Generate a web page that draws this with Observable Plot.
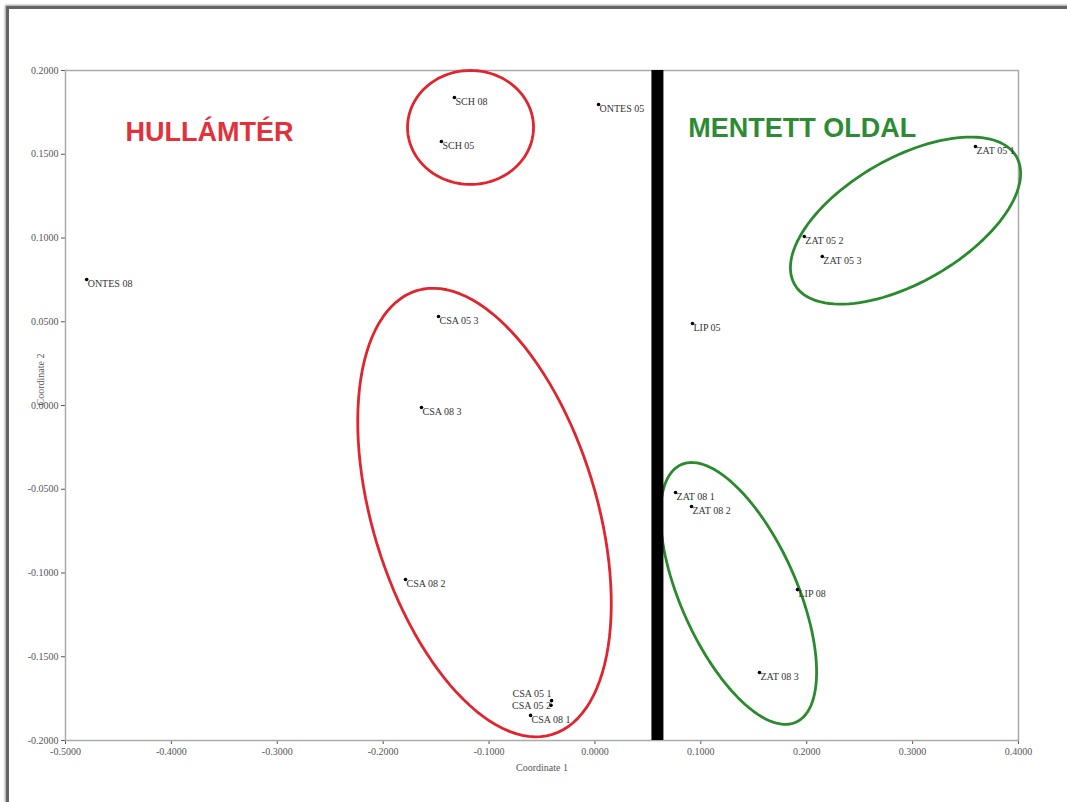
<!DOCTYPE html>
<html>
<head>
<meta charset="utf-8">
<script src="https://cdn.jsdelivr.net/npm/d3@7"></script>
<script src="https://cdn.jsdelivr.net/npm/@observablehq/plot@0.6"></script>
<style>
  html, body { margin: 0; padding: 0; background: #fff; width: 1067px; height: 802px; overflow: hidden; }
  #sheet { position: absolute; left: 6px; top: 6px; width: 1200px; height: 900px;
           border-top: 3px solid #666; border-left: 3px solid #666; box-shadow: -1px -1px 2px #999; }
  #chart { position: absolute; left: 0; top: 0; }
</style>
</head>
<body>
<div id="sheet"></div>
<div id="chart"></div>
<script>
// Sample sites (PCoA ordination scores)
const sites = ["ONTES 08", "SCH 08", "SCH 05", "ONTES 05", "ZAT 05 1", "ZAT 05 2", "ZAT 05 3", "LIP 05",
               "CSA 05 3", "CSA 08 3", "ZAT 08 1", "ZAT 08 2", "LIP 08", "CSA 08 2", "ZAT 08 3",
               "CSA 05 1", "CSA 05 2", "CSA 08 1"];
const coord1 = [-0.480, -0.1327, -0.145, 0.0034, 0.3594, 0.1977, 0.2147, 0.0921,
                -0.1477, -0.1638, 0.0761, 0.0912, 0.1913, -0.1789, 0.1554,
                -0.0410, -0.0415, -0.0608];
const coord2 = [0.0752, 0.1839, 0.1576, 0.1797, 0.1546, 0.1009, 0.0890, 0.0490,
                0.0531, -0.0012, -0.0519, -0.0603, -0.1099, -0.1039, -0.1594,
                -0.1762, -0.1790, -0.1850];
const xTicks = [-0.5, -0.4, -0.3, -0.2, -0.1, 0, 0.1, 0.2, 0.3, 0.4];
const yTicks = [-0.2, -0.15, -0.1, -0.05, 0, 0.05, 0.1, 0.15, 0.2];
// Divider between floodplain and protected side (Coordinate 1 value)
const divider = [0.059];

const points = sites.map((name, i) => ({name, x: coord1[i], y: coord2[i]}));

// Layout
const W = 1067, H = 802, mL = 65, mR = 49, mT = 70, mB = 62;
const xDomain = [-0.5, 0.4], yDomain = [-0.2, 0.2];
const kx = (W - mL - mR) / (xDomain[1] - xDomain[0]);   // px per unit
const ky = (H - mT - mB) / (yDomain[1] - yDomain[0]);

// Group outlines: centre in data units, semi-axes in px, rotation in degrees (screen)
const groups = [
  {id: "sch", cx: -0.1175, cy: 0.166, a: 63, b: 57, rot: 0, color: "#e0252f"},
  {id: "csa", cx: -0.1043, cy: -0.0639, a: 112, b: 232, rot: -17, color: "#e0252f"},
  {id: "zat05", cx: 0.2933, cy: 0.1104, a: 128, b: 62, rot: -30, color: "#2a8a2e"},
  {id: "zat08", cx: 0.1356, cy: -0.1122, a: 58, b: 141, rot: -24, color: "#2a8a2e"}
];
function outline(g) {
  const r = g.rot * Math.PI / 180, pts = [];
  for (let t = 0; t < 360; t += 3) {
    const u = t * Math.PI / 180;
    const ex = g.a * Math.cos(u), ey = g.b * Math.sin(u);
    const px = ex * Math.cos(r) - ey * Math.sin(r);
    const py = ex * Math.sin(r) + ey * Math.cos(r);
    pts.push({id: g.id, color: g.color, x: g.cx + px / kx, y: g.cy - py / ky});
  }
  return pts;
}
const outlines = groups.flatMap(outline);

// labels placed to the left of their dot
const leftOffsets = {"CSA 05 1": -7, "CSA 05 2": 0};
const rightPts = points.filter(p => !(p.name in leftOffsets));
const leftPts = points.filter(p => p.name in leftOffsets);

const fmt = d => d.toFixed(4);

const chart = Plot.plot({
  width: W, height: H,
  marginLeft: mL, marginRight: mR, marginTop: mT, marginBottom: mB,
  style: {fontFamily: "'Liberation Serif', serif", fontSize: "10px", color: "#555", background: "transparent"},
  x: {domain: xDomain, ticks: xTicks, tickFormat: fmt, tickSize: 4, tickPadding: 3, label: null},
  y: {domain: yDomain, ticks: yTicks, tickFormat: fmt, tickSize: 4, tickPadding: 3, label: null},
  marks: [
    Plot.frame({stroke: "#aaa", strokeWidth: 1.5}),
    Plot.line(outlines, {x: "x", y: "y", z: "id", stroke: "color", strokeWidth: 2.8, curve: "linear-closed"}),
    Plot.dot(points, {x: "x", y: "y", r: 1.8, fill: "#000", stroke: "none"}),
    Plot.text(rightPts, {x: "x", y: "y", text: "name", textAnchor: "start", dx: 1, dy: 4,
      fill: "#333", fontSize: 10, fontFamily: "'Liberation Serif', serif"}),
    ...leftPts.map(p => Plot.text([p], {x: "x", y: "y", text: "name", textAnchor: "end", dx: 0, dy: leftOffsets[p.name],
      fill: "#333", fontSize: 10, fontFamily: "'Liberation Serif', serif"})),
    Plot.ruleX(divider, {stroke: "#000", strokeWidth: 12}),
    Plot.text(["HULLÁMTÉR"], {x: -0.4433, y: 0.163, text: d => d, textAnchor: "start",
      fill: "#e3303a", fontSize: 27, fontWeight: "bold", fontFamily: "'Liberation Sans', Arial, sans-serif"}),
    Plot.text(["MENTETT OLDAL"], {x: 0.0882, y: 0.1654, text: d => d, textAnchor: "start",
      fill: "#2e8b34", fontSize: 27, fontWeight: "bold", fontFamily: "'Liberation Sans', Arial, sans-serif"}),
    Plot.text(["Coordinate 1"], {frameAnchor: "bottom", dy: 30, text: d => d, fill: "#555", fontSize: 10}),
    Plot.text(["Coordinate 2"], {frameAnchor: "left", dx: -25, rotate: -90, text: d => d, fill: "#555", fontSize: 10})
  ]
});
document.getElementById("chart").appendChild(chart);
</script>
</body>
</html>
